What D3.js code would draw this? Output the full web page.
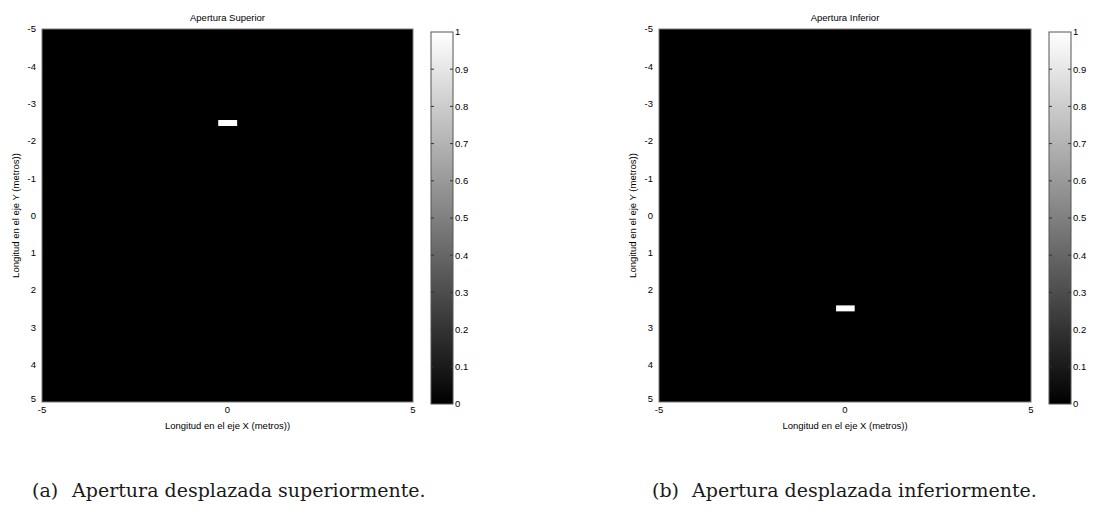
<!DOCTYPE html>
<html>
<head>
<meta charset="utf-8">
<script src="https://cdn.jsdelivr.net/npm/d3@7"></script>
<style>
  html, body { margin: 0; padding: 0; background: #fff; }
  svg { display: block; }
  .tick-label { font-family: "Liberation Sans", Arial, sans-serif; font-size: 9.5px; fill: #000; }
  .axis-label { font-family: "Liberation Sans", Arial, sans-serif; font-size: 9.5px; fill: #000; }
  .caption { font-family: "DejaVu Serif", "Liberation Serif", serif; font-size: 19px; fill: #1a1a1a; }
</style>
</head>
<body>
<svg id="chart" width="1094" height="516"></svg>
<script>
// Axis ranges and ticks
const xDomain = [-5, 5];
const yDomain = [-5, 5];
const xTicks = [-5, 0, 5];
const yTicks = [-5, -4, -3, -2, -1, 0, 1, 2, 3, 4, 5];
const colorTicks = [0, 0.1, 0.2, 0.3, 0.4, 0.5, 0.6, 0.7, 0.8, 0.9, 1];

// One entry per panel
const titles = ["Apertura Superior", "Apertura Inferior"];
const captionTags = ["(a)", "(b)"];
const captions = ["Apertura desplazada superiormente.", "Apertura desplazada inferiormente."];
const backgroundValue = [0, 0];
// Open aperture (value 1) extents, in metres
const apertureX0 = [-0.25, -0.24];
const apertureX1 = [0.26, 0.26];
const apertureY0 = [-2.56, 2.41];
const apertureY1 = [-2.40, 2.57];
const apertureValue = [1, 1];

const xLabel = "Longitud en el eje X (metros))";
const yLabel = "Longitud en el eje Y (metros))";

const svg = d3.select("#chart");
const color = d3.scaleLinear().domain([0, 1]).range(["#000000", "#ffffff"]);

// Gradient for the colour bar
const defs = svg.append("defs");
const grad = defs.append("linearGradient")
  .attr("id", "grayGrad").attr("x1", 0).attr("y1", 1).attr("x2", 0).attr("y2", 0);
d3.range(0, 1.0001, 0.1).forEach(t => {
  grad.append("stop").attr("offset", t).attr("stop-color", color(t));
});

const panels = [
  { left: 42, right: 413, top: 29, bottom: 402, cbLeft: 431, cbRight: 453, cbTop: 32, cbBottom: 404, capX: 32 },
  { left: 659, right: 1031, top: 29, bottom: 402, cbLeft: 1049, cbRight: 1071, cbTop: 32, cbBottom: 404, capX: 652 }
];

panels.forEach((p, i) => {
  const g = svg.append("g");
  const x = d3.scaleLinear().domain(xDomain).range([p.left, p.right]);
  const y = d3.scaleLinear().domain(yDomain).range([p.top, p.bottom]);

  // Image background
  g.append("rect")
    .attr("x", x(xDomain[0])).attr("y", y(yDomain[0]))
    .attr("width", x(xDomain[1]) - x(xDomain[0]))
    .attr("height", y(yDomain[1]) - y(yDomain[0]))
    .attr("fill", color(backgroundValue[i]))
    .attr("stroke", "#7a7a7a").attr("stroke-width", 1);

  // Aperture
  g.append("rect")
    .attr("x", x(apertureX0[i])).attr("y", y(apertureY0[i]))
    .attr("width", x(apertureX1[i]) - x(apertureX0[i]))
    .attr("height", y(apertureY1[i]) - y(apertureY0[i]))
    .attr("fill", color(apertureValue[i]));

  // Y tick labels
  g.selectAll(".ytl").data(yTicks).join("text")
    .attr("class", "tick-label")
    .attr("x", p.left - 6)
    .attr("y", d => y(d) + (d === yDomain[1] ? -3 : 0))
    .attr("dy", "0.35em")
    .attr("text-anchor", "end")
    .text(d => d);

  // X tick labels
  g.selectAll(".xtl").data(xTicks).join("text")
    .attr("class", "tick-label")
    .attr("x", d => x(d))
    .attr("y", p.bottom + 11)
    .attr("text-anchor", "middle")
    .text(d => d);

  // Title
  g.append("text").attr("class", "axis-label")
    .attr("x", (p.left + p.right) / 2).attr("y", p.top - 8)
    .attr("text-anchor", "middle").text(titles[i]);

  // Axis labels
  g.append("text").attr("class", "axis-label")
    .attr("x", (p.left + p.right) / 2).attr("y", p.bottom + 27)
    .attr("text-anchor", "middle").text(xLabel);
  g.append("text").attr("class", "axis-label")
    .attr("transform", `translate(${p.left - 23},${(p.top + p.bottom) / 2}) rotate(-90)`)
    .attr("text-anchor", "middle").text(yLabel);

  // Colour bar
  const cy = d3.scaleLinear().domain([0, 1]).range([p.cbBottom, p.cbTop]);
  g.append("rect")
    .attr("x", p.cbLeft).attr("y", p.cbTop)
    .attr("width", p.cbRight - p.cbLeft).attr("height", p.cbBottom - p.cbTop)
    .attr("fill", "url(#grayGrad)")
    .attr("stroke", "#555").attr("stroke-width", 1);
  const inner = colorTicks.filter(d => d > 0 && d < 1);
  g.selectAll(".cbtl").data(inner).join("line")
    .attr("x1", p.cbLeft).attr("x2", p.cbLeft + 3)
    .attr("y1", d => cy(d)).attr("y2", d => cy(d))
    .attr("stroke", "#333").attr("stroke-width", 1);
  g.selectAll(".cbtr").data(inner).join("line")
    .attr("x1", p.cbRight - 3).attr("x2", p.cbRight)
    .attr("y1", d => cy(d)).attr("y2", d => cy(d))
    .attr("stroke", "#333").attr("stroke-width", 1);
  g.selectAll(".cbl").data(colorTicks).join("text")
    .attr("class", "tick-label")
    .attr("x", p.cbRight + 2)
    .attr("y", d => cy(d))
    .attr("dy", "0.35em")
    .text(d => d);

  // Caption
  const cap = svg.append("g").attr("class", "caption");
  cap.append("text").attr("x", p.capX).attr("y", 497).text(captionTags[i]);
  cap.append("text").attr("x", p.capX + 40).attr("y", 497).text(captions[i]);
});
</script>
</body>
</html>
